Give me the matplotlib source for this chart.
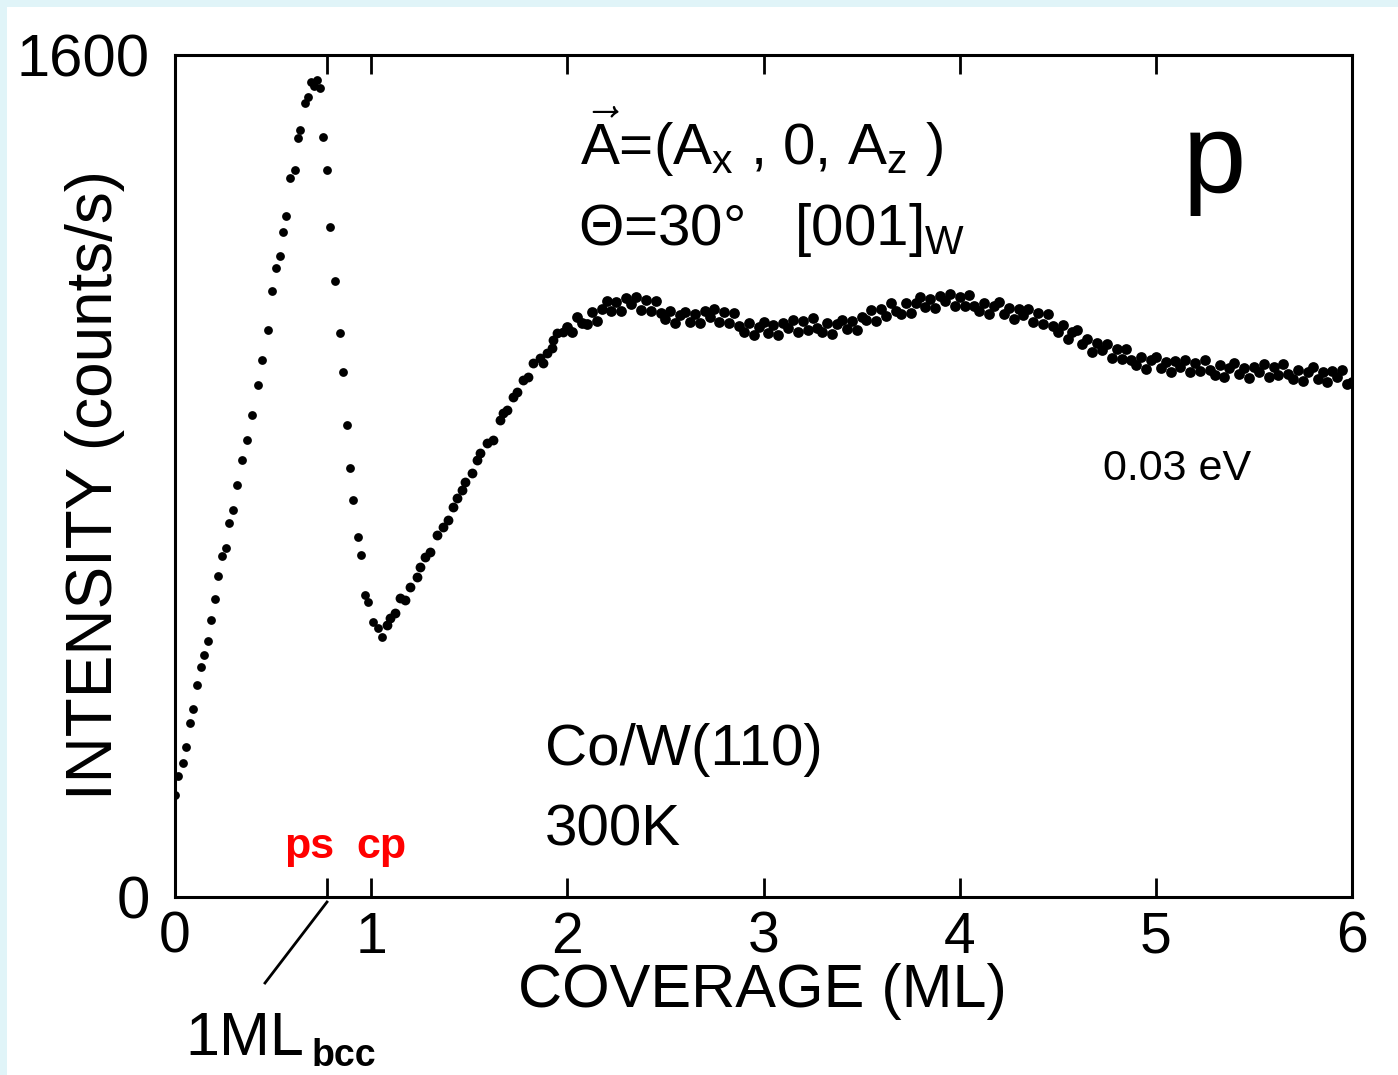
import matplotlib
matplotlib.use("Agg")
import matplotlib.pyplot as plt
from matplotlib.patches import Rectangle
from matplotlib.lines import Line2D

plt.rcParams['font.family'] = ['Liberation Sans', 'DejaVu Sans']
plt.rcParams['mathtext.fontset'] = 'custom'
plt.rcParams['mathtext.rm'] = 'Liberation Sans'
plt.rcParams['mathtext.it'] = 'Liberation Sans'

# coverage (ML) and intensity (counts/s)
# first monolayer: sparse dots, peak and dip
cov_low = [0.000, 0.015, 0.041, 0.056, 0.076, 0.092, 0.112, 0.133, 0.148, 0.168,
           0.184, 0.204, 0.219, 0.240, 0.260, 0.275, 0.296, 0.316, 0.342, 0.367,
           0.393, 0.423, 0.443, 0.474, 0.494, 0.515, 0.535, 0.551, 0.566, 0.586,
           0.612, 0.627, 0.637, 0.663, 0.678, 0.693, 0.709, 0.724, 0.739,
           0.754, 0.775, 0.790, 0.816, 0.841, 0.856, 0.877, 0.892, 0.907, 0.933,
           0.948, 0.969, 0.984, 1.009, 1.035, 1.055]
int_low = [194, 230, 255, 285, 331, 357, 403, 437, 460, 486,
           526, 566, 610, 648, 663, 711, 735, 783, 830, 868,
           916, 973, 1020, 1077, 1152, 1195, 1218, 1264, 1294, 1366,
           1381, 1442, 1457, 1509, 1520, 1549, 1541, 1552, 1537,
           1444, 1381, 1273, 1171, 1072, 998, 897, 815, 754, 684,
           650, 574, 561, 523, 511, 494]

# recovery after the minimum
cov_mid = [1.081, 1.096, 1.121, 1.147, 1.172, 1.198, 1.234, 1.249, 1.274, 1.300,
           1.336, 1.366, 1.392, 1.417, 1.438, 1.463, 1.478, 1.514, 1.539, 1.555,
           1.590, 1.621, 1.657, 1.672, 1.692, 1.723, 1.743, 1.774, 1.799, 1.825,
           1.861, 1.876, 1.896, 1.922, 1.927, 1.947, 1.978]
int_mid = [517, 530, 540, 568, 564, 589, 608, 627, 646, 656,
           688, 703, 716, 741, 758, 773, 789, 806, 830, 844,
           863, 868, 906, 920, 925, 950, 960, 982, 988, 1015,
           1024, 1015, 1034, 1043, 1058, 1072, 1074]

# dense part 2-6 ML
cov_high = [2.000, 2.025, 2.050, 2.075, 2.100, 2.125, 2.150, 2.175,
            2.200, 2.225, 2.250, 2.275, 2.300, 2.325, 2.350, 2.375,
            2.400, 2.425, 2.450, 2.475, 2.500, 2.525, 2.550, 2.575,
            2.600, 2.625, 2.650, 2.675, 2.700, 2.725, 2.750, 2.775,
            2.800, 2.825, 2.850, 2.875, 2.900, 2.925, 2.950, 2.975,
            3.000, 3.025, 3.050, 3.075, 3.100, 3.125, 3.150, 3.175,
            3.200, 3.225, 3.250, 3.275, 3.300, 3.325, 3.350, 3.375,
            3.400, 3.425, 3.450, 3.475, 3.500, 3.525, 3.550, 3.575,
            3.600, 3.625, 3.650, 3.675, 3.700, 3.725, 3.750, 3.775,
            3.800, 3.825, 3.850, 3.875, 3.900, 3.925, 3.950, 3.975,
            4.000, 4.025, 4.050, 4.075, 4.100, 4.125, 4.150, 4.175,
            4.200, 4.225, 4.250, 4.275, 4.300, 4.325, 4.350, 4.375,
            4.400, 4.425, 4.450, 4.475, 4.500, 4.525, 4.550, 4.575,
            4.600, 4.625, 4.650, 4.675, 4.700, 4.725, 4.750, 4.775,
            4.800, 4.825, 4.850, 4.875, 4.900, 4.925, 4.950, 4.975,
            5.000, 5.025, 5.050, 5.075, 5.100, 5.125, 5.150, 5.175,
            5.200, 5.225, 5.250, 5.275, 5.300, 5.325, 5.350, 5.375,
            5.400, 5.425, 5.450, 5.475, 5.500, 5.525, 5.550, 5.575,
            5.600, 5.625, 5.650, 5.675, 5.700, 5.725, 5.750, 5.775,
            5.800, 5.825, 5.850, 5.875, 5.900, 5.925, 5.950, 5.975,
            6.000]
int_high = [1084, 1074, 1103, 1090, 1088, 1111, 1095, 1118,
            1132, 1113, 1130, 1114, 1138, 1127, 1141, 1116,
            1134, 1114, 1133, 1110, 1098, 1114, 1090, 1105,
            1112, 1092, 1107, 1090, 1113, 1102, 1117, 1093,
            1111, 1091, 1109, 1085, 1073, 1090, 1067, 1084,
            1092, 1071, 1086, 1068, 1090, 1081, 1097, 1074,
            1094, 1078, 1100, 1081, 1073, 1091, 1070, 1088,
            1097, 1079, 1095, 1078, 1103, 1096, 1115, 1095,
            1117, 1104, 1129, 1113, 1108, 1128, 1109, 1129,
            1140, 1121, 1136, 1119, 1142, 1132, 1146, 1123,
            1141, 1123, 1143, 1123, 1113, 1129, 1107, 1123,
            1130, 1107, 1119, 1098, 1118, 1106, 1118, 1092,
            1109, 1089, 1107, 1085, 1073, 1086, 1060, 1073,
            1077, 1051, 1060, 1036, 1053, 1040, 1051, 1025,
            1041, 1023, 1042, 1021, 1010, 1026, 1003, 1020,
            1027, 1005, 1017, 997, 1018, 1007, 1021, 997,
            1015, 999, 1020, 1001, 992, 1010, 988, 1006,
            1014, 993, 1006, 987, 1008, 998, 1013, 989,
            1008, 991, 1013, 993, 985, 1002, 981, 998,
            1007, 985, 998, 979, 1000, 988, 1001, 975,
            978]

xticks = [0, 1, 2, 3, 4, 5, 6]
ps_mark = 0.775  # 1 ML bcc
yticks = [0, 1600]

W, H = 1398, 1075
fig = plt.figure(figsize=(W / 100, H / 100), dpi=100)
fig.patch.set_facecolor('#e0f4f8')
fig.patches.append(Rectangle((7 / W, 0), 1, 1 - 7 / H, transform=fig.transFigure,
                             facecolor='white', edgecolor='none', zorder=-10))


def fp(x, y):
    # pixel position -> figure fraction
    return x / W, 1 - y / H


ax = fig.add_axes([175 / W, 1 - 897 / H, (1352 - 175) / W, (897 - 55) / H])
ax.set_facecolor('white')

ax.scatter(cov_low, int_low, s=40, color='black', linewidths=0, zorder=3)
ax.scatter(cov_mid, int_mid, s=50, color='black', linewidths=0, zorder=3)
ax.scatter(cov_high, int_high, s=60, color='black', linewidths=0, zorder=3)

ax.set_xlim(0, 6)
ax.set_ylim(0, 1600)
for sp in ax.spines.values():
    sp.set_linewidth(2.2)

ax.set_xticks(xticks)
ax.set_xticklabels([str(t) for t in xticks])
ax.set_xticks([ps_mark], minor=True)
ax.tick_params(axis='x', which='both', direction='in', length=14, width=2,
               top=True, labelsize=41, pad=10)
ax.set_yticks(yticks)
ax.set_yticklabels(['0', '1600'])
ax.tick_params(axis='y', length=0, labelsize=43, pad=18)

fig.text(*fp(95, 485), 'INTENSITY (counts/s)', rotation=90, ha='center', va='center', fontsize=46)
fig.text(*fp(762, 992), 'COVERAGE (ML)', ha='center', va='center', fontsize=44)

fig.text(*fp(580, 165), r'$\vec{\mathrm{A}}$=(A$_\mathrm{x}$ , 0, A$_\mathrm{z}$ )', fontsize=42, va='baseline')
fig.text(*fp(578, 245), 'Θ=30°   [001]$_\mathrm{W}$', fontsize=42, va='baseline')
fig.text(*fp(1183, 192), 'p', fontsize=82, va='baseline')
fig.text(*fp(1103, 480), '0.03 eV', fontsize=31, va='baseline')
fig.text(*fp(545, 765), 'Co/W(110)', fontsize=42, va='baseline')
fig.text(*fp(545, 845), '300K', fontsize=42, va='baseline')
fig.text(*fp(284, 858), 'ps', fontsize=31, fontweight='bold', color='#ff0000', va='baseline')
fig.text(*fp(356, 858), 'cp', fontsize=31, fontweight='bold', color='#ff0000', va='baseline')
fig.text(*fp(185, 1055), '1ML', fontsize=44, va='baseline')
fig.text(*fp(312, 1066), 'bcc', fontsize=27, fontweight='bold', va='baseline')

x0, y0 = fp(327, 902)
x1, y1 = fp(265, 983)
fig.lines.append(Line2D([x0, x1], [y0, y1], transform=fig.transFigure, color='black', lw=2))

fig.savefig('out.png', dpi=100)
